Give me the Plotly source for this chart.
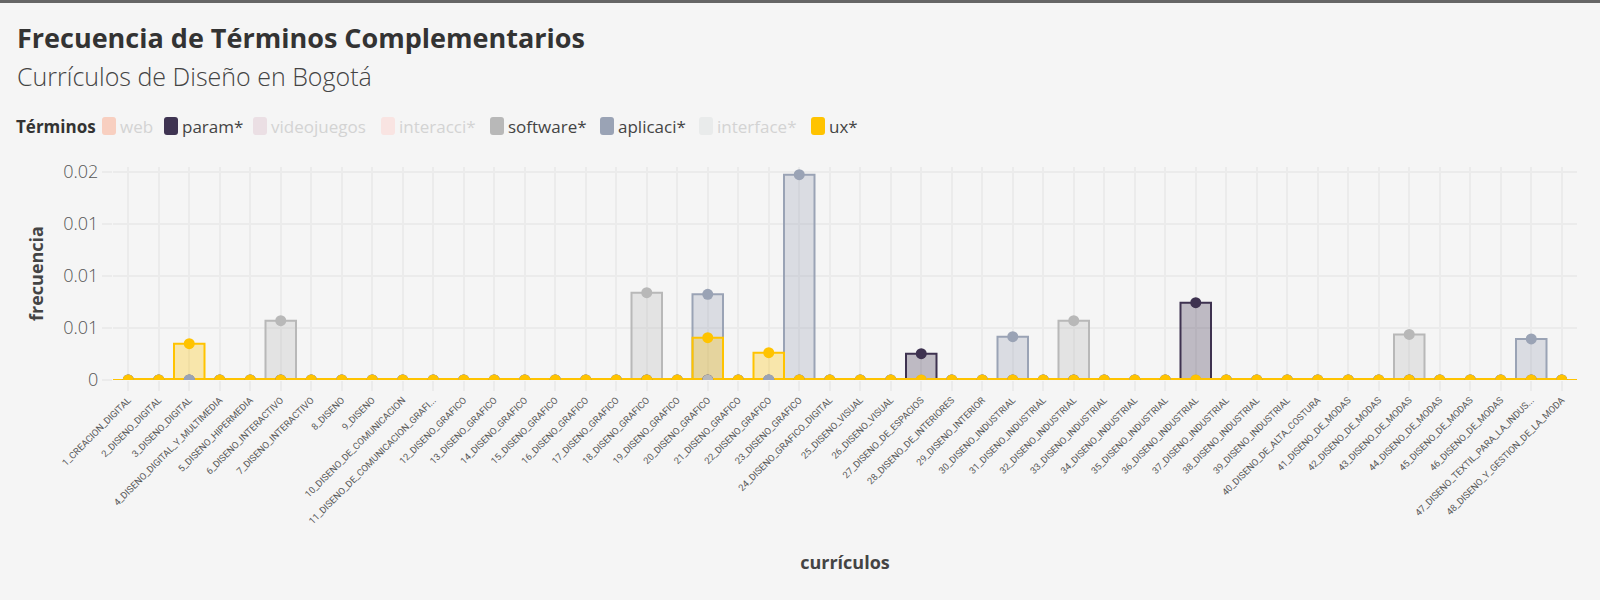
import plotly.graph_objects as go

curriculos = [
    "1_CREACION_DIGITAL", "2_DISENO_DIGITAL", "3_DISENO_DIGITAL", "4_DISENO_DIGITAL_Y_MULTIMEDIA",
    "5_DISENO_HIPERMEDIA", "6_DISENO_INTERACTIVO", "7_DISENO_INTERACTIVO", "8_DISENO",
    "9_DISENO", "10_DISENO_DE_COMUNICACION", "11_DISENO_DE_COMUNICACION_GRAFI...", "12_DISENO_GRAFICO",
    "13_DISENO_GRAFICO", "14_DISENO_GRAFICO", "15_DISENO_GRAFICO", "16_DISENO_GRAFICO",
    "17_DISENO_GRAFICO", "18_DISENO_GRAFICO", "19_DISENO_GRAFICO", "20_DISENO_GRAFICO",
    "21_DISENO_GRAFICO", "22_DISENO_GRAFICO", "23_DISENO_GRAFICO", "24_DISENO_GRAFICO_DIGITAL",
    "25_DISENO_VISUAL", "26_DISENO_VISUAL", "27_DISENO_DE_ESPACIOS", "28_DISENO_DE_INTERIORES",
    "29_DISENO_INTERIOR", "30_DISENO_INDUSTRIAL", "31_DISENO_INDUSTRIAL", "32_DISENO_INDUSTRIAL",
    "33_DISENO_INDUSTRIAL", "34_DISENO_INDUSTRIAL", "35_DISENO_INDUSTRIAL", "36_DISENO_INDUSTRIAL",
    "37_DISENO_INDUSTRIAL", "38_DISENO_INDUSTRIAL", "39_DISENO_INDUSTRIAL", "40_DISENO_DE_ALTA_COSTURA",
    "41_DISENO_DE_MODAS", "42_DISENO_DE_MODAS", "43_DISENO_DE_MODAS", "44_DISENO_DE_MODAS",
    "45_DISENO_DE_MODAS", "46_DISENO_DE_MODAS", "47_DISENO_TEXTIL_PARA_LA_INDUS...", "48_DISENO_Y_GESTION_DE_LA_MODA",
]

# visible series
param = [
    0, 0, 0, 0, 0, 0, 0, 0,
    0, 0, 0, 0, 0, 0, 0, 0,
    0, 0, 0, 0, 0, 0, 0, 0,
    0, 0, 0.00253, 0, 0, 0, 0, 0,
    0, 0, 0, 0.00742, 0, 0, 0, 0,
    0, 0, 0, 0, 0, 0, 0, 0,
]
software = [
    0, 0, 0, 0, 0, 0.00570, 0, 0,
    0, 0, 0, 0, 0, 0, 0, 0,
    0, 0.00838, 0, 0, 0, 0, 0, 0,
    0, 0, 0, 0, 0, 0, 0, 0.00570,
    0, 0, 0, 0, 0, 0, 0, 0,
    0, 0, 0.00438, 0, 0, 0, 0, 0,
]
aplicaci = [
    0, 0, 0, 0, 0, 0, 0, 0,
    0, 0, 0, 0, 0, 0, 0, 0,
    0, 0, 0, 0.00823, 0, 0, 0.01971, 0,
    0, 0, 0, 0, 0, 0.00416, 0, 0,
    0, 0, 0, 0, 0, 0, 0, 0,
    0, 0, 0, 0, 0, 0, 0.00394, 0,
]
ux = [
    0, 0, 0.00349, 0, 0, 0, 0, 0,
    0, 0, 0, 0, 0, 0, 0, 0,
    0, 0, 0, 0.00406, 0, 0.00262, 0, 0,
    0, 0, 0, 0, 0, 0, 0, 0,
    0, 0, 0, 0, 0, 0, 0, 0,
    0, 0, 0, 0, 0, 0, 0, 0,
]
# series switched off in the legend (their values are not shown in the picture)
web = [
    0, 0, 0, 0, 0, 0, 0, 0,
    0, 0, 0, 0, 0, 0, 0, 0,
    0, 0, 0, 0, 0, 0, 0, 0,
    0, 0, 0, 0, 0, 0, 0, 0,
    0, 0, 0, 0, 0, 0, 0, 0,
    0, 0, 0, 0, 0, 0, 0, 0,
]
videojuegos = list(web)
interacci = list(web)
interface = list(web)

series_names = ["web", "param*", "videojuegos", "interacci*", "software*", "aplicaci*", "interface*", "ux*"]
series_values = [web, param, videojuegos, interacci, software, aplicaci, interface, ux]
series_colors = ["#f4a68a", "#3e3250", "#ddc4cf", "#f9cfcb", "#b8b8b8", "#9aa3b5", "#dadfdf", "#ffc300"]
series_visible = [False, True, False, False, True, True, False, True]
# legend swatch colours as drawn (switched-off entries are faded)
legend_swatch = ["#f8cfc0", "#3f3452", "#ebdfe4", "#f9e4e2", "#b8b8b8", "#9aa3b5", "#e9ebeb", "#ffc300"]
legend_left_px = [102, 164, 253, 381, 490, 600, 699, 811]

BG = "#f5f5f5"
GRID = "#ebebeb"
FONT = "Open Sans"

# plot area in pixels
PL, PR, PT, PB = 113, 1577, 167, 380
PW, PH = PR - PL, PB - PT


def px_x(px):
    return (px - PL) / PW


def px_y(py):
    return (PB - py) / PH


def rgba(hexc, a):
    h = hexc.lstrip("#")
    r, g, b = int(h[0:2], 16), int(h[2:4], 16), int(h[4:6], 16)
    return f"rgba({r},{g},{b},{a})"


fig = go.Figure()

# bars
for name, vals, col, vis in zip(series_names, series_values, series_colors, series_visible):
    fig.add_trace(go.Bar(
        x=curriculos, y=vals, name=name, legendgroup=name, showlegend=False,
        visible=True if vis else "legendonly",
        width=1.0,
        marker=dict(color=rgba(col, 0.3), line=dict(color=col, width=2)),
    ))

# baseline stroke of the last series
baseline = [0 for _ in curriculos]
fig.add_trace(go.Scatter(
    x=curriculos, y=baseline, mode="lines", legendgroup="ux*", showlegend=False,
    line=dict(color="#ffc300", width=4), hoverinfo="skip",
))

# point markers
for name, vals, col, vis in zip(series_names, series_values, series_colors, series_visible):
    fig.add_trace(go.Scatter(
        x=curriculos, y=vals, mode="markers", name=name, legendgroup=name, showlegend=False,
        visible=True if vis else "legendonly",
        marker=dict(color=col, size=11),
    ))

# legend (drawn as text + rounded swatches)
annotations = [
    dict(text="<b>Frecuencia de Términos Complementarios</b>", xref="paper", yref="paper",
         x=px_x(15), y=px_y(37), xanchor="left", yanchor="middle",
         showarrow=False, font=dict(size=27, color="#333", family=FONT)),
    dict(text="Currículos de Diseño en Bogotá", xref="paper", yref="paper",
         x=px_x(15), y=px_y(76), xanchor="left", yanchor="middle",
         showarrow=False, font=dict(size=25, color="#444", family=FONT, weight=300)),
    dict(text="<b>Términos</b>", xref="paper", yref="paper",
         x=px_x(14), y=px_y(126), xanchor="left", yanchor="middle",
         showarrow=False, font=dict(size=17, color="#333", family=FONT)),
]
shapes = [
    dict(type="rect", xref="paper", yref="paper", x0=px_x(-10), x1=px_x(1610),
         y0=px_y(3), y1=px_y(-10), fillcolor="#666", line=dict(width=0), layer="above"),
]


def rounded(x0, y0, x1, y1, r):
    pts = [(x0 + r, y0), (x1 - r, y0), (x1, y0), (x1, y0 + r), (x1, y1 - r), (x1, y1), (x1 - r, y1),
           (x0 + r, y1), (x0, y1), (x0, y1 - r), (x0, y0 + r), (x0, y0), (x0 + r, y0)]
    c = [(px_x(a), px_y(b)) for a, b in pts]
    return (f"M{c[0][0]},{c[0][1]} L{c[1][0]},{c[1][1]} Q{c[2][0]},{c[2][1]} {c[3][0]},{c[3][1]} "
            f"L{c[4][0]},{c[4][1]} Q{c[5][0]},{c[5][1]} {c[6][0]},{c[6][1]} L{c[7][0]},{c[7][1]} "
            f"Q{c[8][0]},{c[8][1]} {c[9][0]},{c[9][1]} L{c[10][0]},{c[10][1]} "
            f"Q{c[11][0]},{c[11][1]} {c[12][0]},{c[12][1]} Z")


for name, sw, vis, left in zip(series_names, legend_swatch, series_visible, legend_left_px):
    shapes.append(dict(type="path", xref="paper", yref="paper", path=rounded(left, 117, left + 14, 135, 3),
                       fillcolor=sw, line=dict(width=0), layer="above"))
    annotations.append(dict(text=name, xref="paper", yref="paper", x=px_x(left + 16), y=px_y(126),
                            xanchor="left", yanchor="middle", showarrow=False,
                            font=dict(size=17, family=FONT, color="#444" if vis else "#d3d3d3")))

fig.update_layout(
    width=1600, height=600,
    paper_bgcolor=BG, plot_bgcolor=BG,
    margin=dict(l=PL, r=1600 - PR, t=PT, b=600 - PB, autoexpand=False),
    barmode="overlay",
    font=dict(family=FONT, color="#444"),
    showlegend=False,
    xaxis=dict(
        type="category", range=[-0.5, 47.5], tickangle=-45,
        tickfont=dict(size=9.4, color="#5a5a5a", family="Roboto"),
        showgrid=True, gridcolor=GRID, gridwidth=1.5,
        ticks="outside", ticklen=10, tickcolor=GRID, tickwidth=1.5,
        showline=False, zeroline=False,
        title=dict(text="<b>currículos</b>", font=dict(size=18, color="#444"), standoff=31),
    ),
    yaxis=dict(
        range=[0, 0.02045], tick0=0, dtick=0.005, tickformat=".2~f",
        tickfont=dict(size=18, color="#555", weight=300),
        showgrid=True, gridcolor=GRID, gridwidth=1.5,
        ticks="outside", ticklen=10, tickcolor=GRID, tickwidth=1.5,
        showline=False, zeroline=False,
        title=dict(text="<b>frecuencia</b>", font=dict(size=18, color="#444"), standoff=14),
    ),
    annotations=annotations,
    shapes=shapes,
)

fig.write_html("out.html")
